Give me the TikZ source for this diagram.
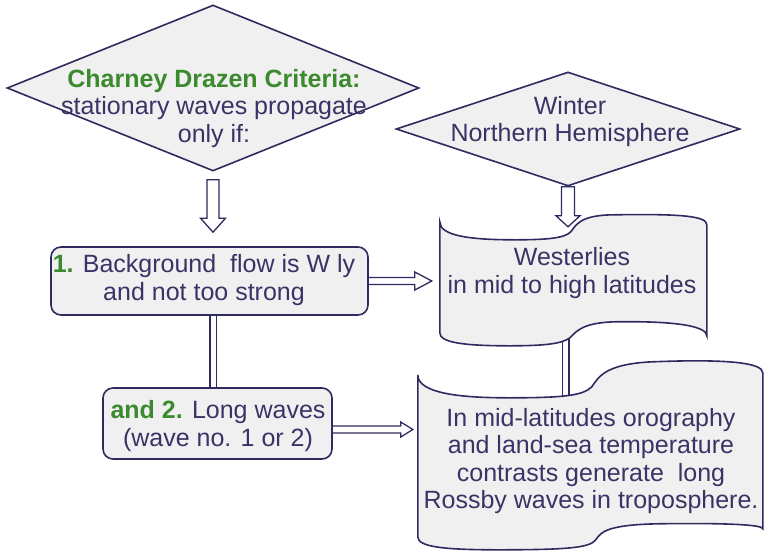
\documentclass[tikz,border=0pt]{standalone}
\usepackage{fontspec}
\setmainfont{Liberation Sans}
\usetikzlibrary{shapes.geometric,calc,backgrounds}
\definecolor{edge}{HTML}{2E2B5F}
\definecolor{ink}{HTML}{3A3366}
\definecolor{boxfill}{HTML}{F0F0F1}
\definecolor{grn}{HTML}{3C8A2E}
\tikzset{
 shapeline/.style={draw=edge, line width=1.6pt, fill=boxfill},
 dia/.style={diamond, shapeline, inner sep=0pt},
 rbox/.style={rectangle, rounded corners=10pt, shapeline, inner sep=0pt},
 frame/.style={rectangle, inner sep=0pt},
 txt/.style={text=ink, align=center, font=\fontsize{25}{27.5}\selectfont, inner sep=0pt},
 blockarrow/.style={draw=edge, line width=1.3pt, fill=white, line join=miter},
 dbl/.style={draw=edge, line width=1.3pt, double=white, double distance=5pt},
}
\newcommand\gr[1]{\textcolor{grn}{\bfseries #1}}
% vertical block arrow: start, tip, shaft half width, head half width, head length
\newcommand\vblock[5]{\draw[blockarrow] ($(#1)+(-#3,0)$) -- ($(#2)+(-#3,-#5)$) -- ($(#2)+(-#4,-#5)$) -- (#2) -- ($(#2)+(#4,-#5)$) -- ($(#2)+(#3,-#5)$) -- ($(#1)+(#3,0)$) -- cycle;}
% horizontal block arrow
\newcommand\hblock[5]{\draw[blockarrow] ($(#1)+(0,-#3)$) -- ($(#2)+(-#5,-#3)$) -- ($(#2)+(-#5,-#4)$) -- (#2) -- ($(#2)+(-#5,#4)$) -- ($(#2)+(-#5,#3)$) -- ($(#1)+(0,#3)$) -- cycle;}
\begin{document}
\begin{tikzpicture}[x=1pt, y=-1pt]
\useasboundingbox (0,0) rectangle (766,555);
% shapes
\node[dia, minimum width=412pt, minimum height=166pt] (d1) at (213,88) {};
\node[dia, minimum width=344pt, minimum height=114pt] (d2) at (568,129) {};
\node[rbox, minimum width=317pt, minimum height=68pt] (b1) at (209.5,281) {};
\node[rbox, minimum width=229pt, minimum height=71pt] (b2) at (217.5,423.5) {};
\node[frame, minimum width=267pt, minimum height=111pt] (w) at (573.5,277.5) {};
\node[frame, minimum width=345pt, minimum height=162pt] (t2) at (590.5,456) {};
% tape: Westerlies
\begin{scope}[shift={(w.north west)}]
\draw[shapeline] (0,0) .. controls (0,14) and (30,18) .. (75,18)
  .. controls (110,18) and (125,16) .. (131,10)
  .. controls (136,4) and (139,-7) .. (175,-7)
  .. controls (240,-8) and (267,-6) .. (267,3)
  -- (267,114)
  .. controls (267,105) and (240,99) .. (175,100)
  .. controls (140,101) and (136,111) .. (130,116)
  .. controls (122,122) and (105,124) .. (70,124)
  .. controls (25,124) and (0,121) .. (0,111) -- cycle;
\end{scope}
% tape: orography
\begin{scope}[shift={(t2.north west)}]
\draw[shapeline] (0,0) .. controls (0,18) and (40,23) .. (90,23)
  .. controls (145,23) and (165,21) .. (174,12)
  .. controls (180,4) and (185,-11) .. (235,-13)
  .. controls (310,-16) and (345,-12) .. (345,-2)
  -- (345,154)
  .. controls (345,150) and (310,148) .. (240,149)
  .. controls (190,150) and (183,157) .. (178,165)
  .. controls (172,173) and (150,175) .. (80,175)
  .. controls (25,175) and (0,172) .. (0,162) -- cycle;
\end{scope}
% connectors
\begin{pgfonlayer}{background}
\coordinate (a1s) at ($(d1.south)+(0,8)$);
\coordinate (a1e) at ($(d1.south |- b1.north)+(0,-14)$);
\vblock{a1s}{a1e}{6}{12.5}{14}
\coordinate (a2s) at (d2.south);
\coordinate (a2e) at ($(d2.south |- w.north)+(0,5)$);
\vblock{a2s}{a2e}{6.5}{12}{11}
\coordinate (a3s) at ($(b1.east)+(-3,0)$);
\coordinate (a3e) at ($(b1.east -| w.west)+(-8,0)$);
\hblock{a3s}{a3e}{3.5}{9}{17}
\coordinate (a4s) at ($(b2.east)+(-3,6)$);
\coordinate (a4e) at ($(b2.east -| t2.west)+(-5,6)$);
\hblock{a4s}{a4e}{3.5}{7.5}{12}
\draw[dbl] (d1.south |- b1.center) -- (d1.south |- b2.center);
\draw[dbl] ($(w.south west)+(126,-10)$) -- ($(t2.north west)+(148,40)$);
\end{pgfonlayer}
% texts
\node[txt] (td1) at (214,108.5) {\gr{Charney Drazen Criteria:}\\stationary waves propagate\\only if:};
\node[txt] (td2) at (570,121.5) {Winter\\Northern Hemisphere};
\node[txt] (tb1) at (204,280) {\gr{1.} Background\ \ flow is W ly\\and not too strong};
\node[txt] (tb2) at (218,426) {\gr{and 2.} Long waves\\(wave no. 1 or 2)};
\node[txt] (tw) at (572,273) {Westerlies\\in mid to high latitudes};
\node[txt] (tt2) at (591,461) {In mid-latitudes orography\\and land-sea temperature\\contrasts generate\ \ long\\Rossby waves in troposphere.};
\end{tikzpicture}
\end{document}
